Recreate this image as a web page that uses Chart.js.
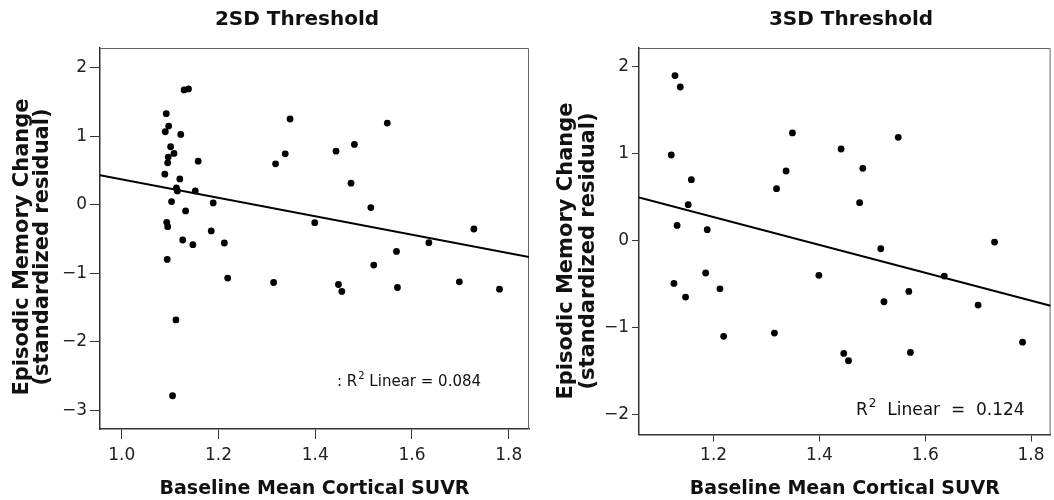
<!DOCTYPE html>
<html><head><meta charset="utf-8">
<script src="https://cdn.jsdelivr.net/npm/chart.js@4.4.1/dist/chart.umd.min.js"></script>
<style>
html,body{margin:0;padding:0;background:#fff;}
#wrap{position:relative;width:1054px;height:500px;overflow:hidden;}
canvas{position:absolute;top:0;}
</style></head><body>
<div id="wrap">
<canvas id="c1" width="540" height="500" style="left:0px"></canvas>
<canvas id="c2" width="514" height="500" style="left:540px"></canvas>
</div>
<script>
const FONT = "'DejaVu Sans', sans-serif";

// ---- Panel 1: 2SD Threshold ----
const titleLeft = '2SD Threshold';
const leftSUVR = [1.129,1.138,1.092,1.097,1.090,1.122,1.101,1.108,1.096,1.095,1.158,1.348,1.338,1.318,1.089,1.120,1.113,1.115,1.152,1.103,1.189,1.132,1.093,1.095,1.185,1.126,1.147,1.212,1.094,1.219,1.314,1.112,1.105,1.399,1.549,1.481,1.443,1.474,1.515,1.728,1.635,1.568,1.521,1.448,1.455,1.570,1.698,1.781];
const leftResid = [1.678,1.693,1.332,1.151,1.068,1.029,0.849,0.751,0.698,0.615,0.639,1.254,0.746,0.600,0.449,0.380,0.249,0.205,0.205,0.049,0.029,-0.088,-0.254,-0.317,-0.380,-0.512,-0.580,-0.556,-0.795,-1.068,-1.132,-1.678,-2.785,-0.259,1.195,0.883,0.785,0.317,-0.039,-0.351,-0.551,-0.678,-0.878,-1.161,-1.263,-1.205,-1.122,-1.229];
const leftFitX = [0.955, 1.842];
const leftFitY = [0.434, -0.761];
const leftXTicks = [1.0, 1.2, 1.4, 1.6, 1.8];
const leftYTicks = [-3, -2, -1, 0, 1, 2];
const leftR2 = [': R', '2', ' Linear = 0.084'];

// ---- Panel 2: 3SD Threshold ----
const titleRight = '3SD Threshold';
const rightSUVR = [1.127,1.137,1.120,1.158,1.152,1.131,1.188,1.185,1.125,1.147,1.212,1.219,1.315,1.319,1.337,1.349,1.399,1.441,1.549,1.482,1.476,1.516,1.731,1.636,1.569,1.522,1.700,1.446,1.455,1.572,1.784];
const rightResid = [1.893,1.762,0.981,0.697,0.410,0.172,0.123,-0.375,-0.494,-0.651,-0.556,-1.102,-1.065,0.594,0.797,1.234,-0.402,1.050,1.184,0.828,0.433,-0.096,-0.019,-0.410,-0.586,-0.705,-0.743,-1.299,-1.383,-1.287,-1.169];
const rightFitX = [1.059, 1.837];
const rightFitY = [0.494, -0.751];
const rightXTicks = [1.2, 1.4, 1.6, 1.8];
const rightYTicks = [-2, -1, 0, 1, 2];
const rightR2 = ['R', '2', '  Linear  =  0.124'];

const xTitle = 'Baseline Mean Cortical SUVR';
const yTitle = ['Episodic Memory Change', '(standardized residual)'];

const framePlugin = {
  id: 'frame',
  beforeDatasetsDraw(chart) {
    const a = chart.chartArea, ctx = chart.ctx;
    ctx.save();
    ctx.strokeStyle = '#666';
    ctx.lineWidth = 1;
    ctx.beginPath();
    ctx.moveTo(a.left, a.top + 0.5);
    ctx.lineTo(a.right - 0.5, a.top + 0.5);
    ctx.lineTo(a.right - 0.5, a.bottom);
    ctx.stroke();
    ctx.restore();
  }
};

function textPlugin(cfg) {
  return {
    id: 'texts',
    afterDraw(chart) {
      const ctx = chart.ctx;
      ctx.save();
      ctx.fillStyle = '#111';
      ctx.textBaseline = 'middle';
      ctx.textAlign = 'center';
      ctx.font = "bold 20px " + FONT;
      ctx.fillText(cfg.title, cfg.titleX, 20);
      // y-axis title (two rotated lines)
      ctx.font = "bold 21px " + FONT;
      yTitle.forEach((line, i) => {
        ctx.save();
        ctx.translate(cfg.yTitleX[i], cfg.yTitleY);
        ctx.rotate(-Math.PI / 2);
        ctx.fillText(line, 0, 0);
        ctx.restore();
      });
      // R^2 annotation
      ctx.textAlign = 'left';
      ctx.textBaseline = 'alphabetic';
      let x = cfg.r2X;
      const y = cfg.r2Y, fs = cfg.r2Size;
      ctx.font = fs + "px " + FONT;
      ctx.fillText(cfg.r2[0], x, y);
      x += ctx.measureText(cfg.r2[0]).width + 1;
      ctx.font = Math.round(fs * 0.68) + "px " + FONT;
      ctx.fillText(cfg.r2[1], x, y - fs * 0.45);
      x += ctx.measureText(cfg.r2[1]).width;
      ctx.font = fs + "px " + FONT;
      ctx.fillText(cfg.r2[2], x, y);
      ctx.restore();
    }
  };
}

function makeChart(id, cfg) {
  const pts = cfg.xs.map((x, i) => ({x: x, y: cfg.ys[i]}));
  const fit = cfg.fitX.map((x, i) => ({x: x, y: cfg.fitY[i]}));
  const tickFont = {family: FONT, size: 17};
  return new Chart(document.getElementById(id), {
    type: 'scatter',
    data: {datasets: [
      {data: pts, backgroundColor: '#000', borderColor: '#000', pointRadius: 3.4, pointHoverRadius: 3.4, borderWidth: 0},
      {data: fit, showLine: true, borderColor: '#000', borderWidth: 2, pointRadius: 0, fill: false}
    ]},
    options: {
      responsive: false, animation: false, devicePixelRatio: 1, events: [],
      layout: {padding: {top: 48, right: cfg.padRight, left: 0, bottom: 0}},
      plugins: {legend: {display: false}, tooltip: {enabled: false}, title: {display: false}},
      scales: {
        x: {
          type: 'linear', min: cfg.xMin, max: cfg.xMax,
          afterFit: s => { s.height = cfg.xAxisH; },
          afterBuildTicks: s => { s.ticks = cfg.xTicks.map(v => ({value: v})); },
          ticks: {font: tickFont, color: '#222', padding: cfg.xLabelPad, maxRotation: 0, autoSkip: false,
                  callback: v => Number(v).toFixed(1)},
          grid: {drawOnChartArea: false, drawTicks: true, tickLength: cfg.xTickLen, color: '#333', lineWidth: 1},
          border: {display: true, color: '#333', width: 1.5},
          title: {display: true, text: xTitle, color: '#111',
                  font: {family: FONT, size: 19, weight: 'bold'}, padding: {top: 0, bottom: 0}}
        },
        y: {
          type: 'linear', min: cfg.yMin, max: cfg.yMax,
          afterFit: s => { s.width = cfg.yAxisW; },
          afterBuildTicks: s => { s.ticks = cfg.yTicks.map(v => ({value: v})); },
          ticks: {font: tickFont, color: '#222', padding: 3,
                  callback: v => v < 0 ? '\u2212' + Math.abs(v) : String(v)},
          grid: {drawOnChartArea: false, drawTicks: true, tickLength: cfg.yTickLen, color: '#333', lineWidth: 1},
          border: {display: true, color: '#333', width: 1.5},
          title: {display: false}
        }
      }
    },
    plugins: [framePlugin, textPlugin(cfg)]
  });
}

makeChart('c1', {
  xs: leftSUVR, ys: leftResid, fitX: leftFitX, fitY: leftFitY,
  xTicks: leftXTicks, yTicks: leftYTicks,
  xMin: 0.955, xMax: 1.842, yMin: -3.27, yMax: 2.29,
  padRight: 11, xAxisH: 71, yAxisW: 100, xTickLen: 10, yTickLen: 10, xLabelPad: 6,
  title: titleLeft, titleX: 297, r2: leftR2, r2X: 337, r2Y: 386, r2Size: 15,
  yTitleX: [23, 43], yTitleY: 247
});
makeChart('c2', {
  xs: rightSUVR, ys: rightResid, fitX: rightFitX, fitY: rightFitY,
  xTicks: rightXTicks, yTicks: rightYTicks,
  xMin: 1.059, xMax: 1.837, yMin: -2.23, yMax: 2.21,
  padRight: 1, xAxisH: 65.5, yAxisW: 99, xTickLen: 7, yTickLen: 7, xLabelPad: 4,
  title: titleRight, titleX: 311, r2: rightR2, r2X: 316, r2Y: 415, r2Size: 17,
  yTitleX: [27, 49], yTitleY: 251
});
</script>
</body></html>
